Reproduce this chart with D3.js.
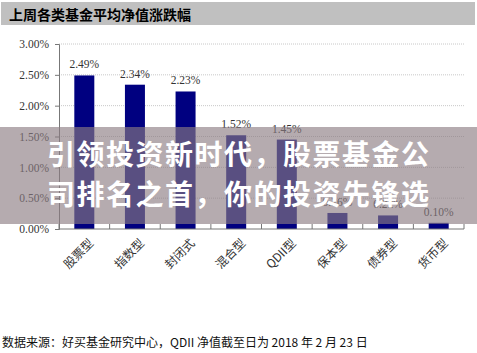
<!DOCTYPE html>
<html>
<head>
<meta charset="utf-8">
<script src="https://cdn.jsdelivr.net/npm/d3@7"></script>
<style>
    body { margin: 0; background: #fff; }
    .tick text { font-family: "Liberation Serif", serif; }
</style>
</head>
<body>
<div id="chart"></div>
<script>
// data
const categories = ["股票型", "指数型", "封闭式", "混合型", "QDII型", "保本型", "债券型", "货币型"];
const values = [2.49, 2.34, 2.23, 1.52, 1.45, 0.26, 0.22, 0.10];
const yTicks = [0, 0.5, 1.0, 1.5, 2.0, 2.5, 3.0];
const titleText = "上周各类基金平均净值涨跌幅";
const sourceText = "数据来源：好买基金研究中心，QDII 净值截至日为 2018 年 2 月 23 日";
const bannerLines = ["引领投资新时代，股票基金公", "司排名之首，你的投资先锋选"];

const W = 477, H = 353;
const margin = {top: 44, right: 13, bottom: 124, left: 59};
const width = W - margin.left - margin.right;
const height = H - margin.top - margin.bottom;

const svg = d3.select("#chart")
    .append("svg")
    .attr("width", W)
    .attr("height", H);

// title bar
svg.append("rect")
    .attr("x", 1).attr("y", 2).attr("width", 474).attr("height", 23)
    .attr("fill", "#c0c0c0");
svg.append("text")
    .attr("x", 9).attr("y", 19.5)
    .attr("font-family", "Noto Sans CJK SC")
    .attr("font-weight", "bold")
    .attr("font-size", 14)
    .attr("fill", "#000")
    .text(titleText);

const g = svg.append("g")
    .attr("transform", "translate(" + margin.left + "," + margin.top + ")");

const x = d3.scaleBand()
    .domain(categories)
    .range([0, width]);

const y = d3.scaleLinear()
    .domain([0, 3])
    .range([height, 0]);

// gridlines
g.selectAll(".grid")
    .data(yTicks.filter(d => d > 0))
    .join("line")
    .attr("x1", 0).attr("x2", width)
    .attr("y1", d => y(d)).attr("y2", d => y(d))
    .attr("stroke", "#c8c8c8")
    .attr("stroke-dasharray", "1,1");

// y axis
const yAxis = g.append("g")
    .call(d3.axisLeft(y).tickValues(yTicks).tickSize(4).tickFormat(d => d.toFixed(2) + "%"));
yAxis.select(".domain").attr("stroke", "#777");
yAxis.selectAll(".tick line").attr("stroke", "#777");
yAxis.selectAll(".tick text")
    .attr("font-size", 11.5)
    .attr("fill", "#333")
    .attr("x", -10);

// bars
g.selectAll(".bar")
    .data(values)
    .join("rect")
    .attr("x", (d, i) => x(categories[i]) + x.bandwidth() / 2 - 10)
    .attr("y", d => y(d))
    .attr("width", 20)
    .attr("height", d => height - y(d))
    .attr("fill", "#000080");

// value labels
g.selectAll(".lbl")
    .data(values)
    .join("text")
    .attr("x", (d, i) => x(categories[i]) + x.bandwidth() / 2)
    .attr("y", d => y(d) - 7)
    .attr("text-anchor", "middle")
    .attr("font-family", "Liberation Serif, serif")
    .attr("font-size", 11.5)
    .attr("fill", "#333")
    .text(d => d.toFixed(2) + "%");

// x axis: line plus ticks between categories, pointing up
const xAxis = g.append("g").attr("transform", "translate(0," + height + ")");
xAxis.append("line")
    .attr("x1", 0).attr("x2", width)
    .attr("stroke", "#777");
xAxis.selectAll(".sep")
    .data(d3.range(categories.length + 1))
    .join("line")
    .attr("x1", i => i * x.step()).attr("x2", i => i * x.step())
    .attr("y1", 0).attr("y2", -5)
    .attr("stroke", "#777");
xAxis.selectAll(".cat")
    .data(categories)
    .join("text")
    .attr("transform", d => "translate(" + (x(d) + x.bandwidth() / 2 + 7) + ",12) rotate(-45)")
    .attr("text-anchor", "end")
    .attr("dy", "0.35em")
    .attr("font-family", "Noto Sans CJK SC")
    .attr("font-size", 12)
    .attr("fill", "#333")
    .text(d => d);

// source note
svg.append("text")
    .attr("x", 2).attr("y", 347)
    .attr("font-family", "Noto Sans CJK SC")
    .attr("font-size", 12)
    .attr("fill", "#111")
    .text(sourceText);

// overlay banner
svg.append("rect")
    .attr("x", 0).attr("y", 127).attr("width", W).attr("height", 97)
    .attr("fill", "rgb(140,124,130)")
    .attr("fill-opacity", 0.64);
svg.selectAll(".banner")
    .data(bannerLines)
    .join("text")
    .attr("x", 47)
    .attr("y", (d, i) => 165 + i * 40)
    .attr("font-family", "Noto Sans CJK SC")
    .attr("font-weight", "bold")
    .attr("font-size", 28)
    .attr("letter-spacing", 1.5)
    .attr("fill", "#fff")
    .text(d => d);
</script>
</body>
</html>
